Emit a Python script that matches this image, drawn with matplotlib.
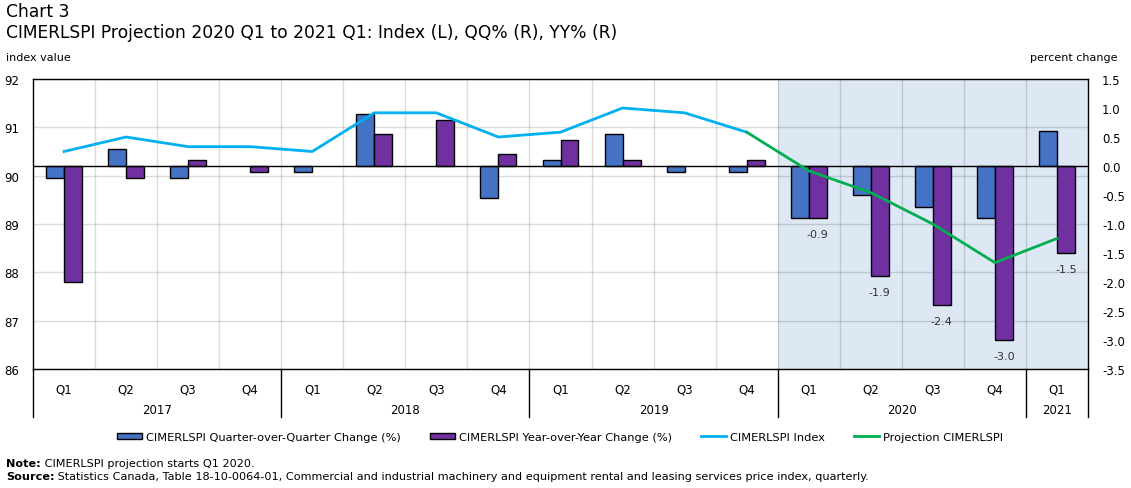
import numpy as np
import matplotlib
matplotlib.use("Agg")
from matplotlib import pyplot as plt
from matplotlib.patches import Patch
from matplotlib.lines import Line2D
import matplotlib.transforms as mtransforms

# data
quarters = ["Q1", "Q2", "Q3", "Q4"] * 4 + ["Q1"]
years = ["2017", "2018", "2019", "2020", "2021"]
year_len = [4, 4, 4, 4, 1]
qq_change = [-0.2, 0.3, -0.2, 0.0, -0.1, 0.9, 0.0, -0.55, 0.1, 0.55, -0.1, -0.1,
             -0.9, -0.5, -0.7, -0.9, 0.6]
yy_change = [-2.0, -0.2, 0.1, -0.1, 0.0, 0.55, 0.8, 0.2, 0.45, 0.1, 0.0, 0.1,
             -0.9, -1.9, -2.4, -3.0, -1.5]
index_hist = [90.5, 90.8, 90.6, 90.6, 90.5, 91.3, 91.3, 90.8, 90.9, 91.4, 91.3, 90.9]
index_proj = [90.9, 90.1, 89.65, 89.0, 88.2, 88.7]  # starts at 2019 Q4
labelled = [12, 13, 14, 15, 16]

BLUE = "#4472c4"
PURPLE = "#7030a0"
CYAN = "#00b0f0"
GREEN = "#00b050"

plt.rcParams["font.family"] = "DejaVu Sans"
fig = plt.figure(figsize=(11.31, 4.89), dpi=100)
rect = [33 / 1131, 1 - 370 / 489, (1088 - 33) / 1131, 290 / 489]

n = len(quarters)
x = np.arange(n)

# bottom layer: index scale, grid, shading
ax = fig.add_axes(rect)
ax.set_xlim(-0.5, n - 0.5)
ax.set_ylim(86, 92)
ax.set_yticks(np.arange(86, 93, 1))
ax.set_axisbelow(False)
ax.axvspan(11.5, n - 0.5, color="#dde8f4", zorder=0.2, lw=0)
ax.set_xticks(x)
ax.set_xticklabels(quarters, fontsize=8.5)
ax.set_xticks(np.arange(0.5, n - 1, 1), minor=True)
ax.tick_params(axis="x", which="both", length=0, pad=10)
ax.tick_params(axis="y", length=0, labelsize=8.5, pad=10)
ax.grid(True, axis="y", which="major", color="black", alpha=0.14, lw=1)
ax.grid(True, axis="x", which="minor", color="black", alpha=0.14, lw=1)
for s in ax.spines.values():
    s.set_color("black")
    s.set_linewidth(1)

# year labels and separators
trans = mtransforms.blended_transform_factory(ax.transData, ax.transAxes)
start = 0
bounds = [-0.5]
for yr, ln in zip(years, year_len):
    ax.text(start + (ln - 1) / 2, -0.14, yr, transform=trans, ha="center",
            va="center", fontsize=8.5)
    start += ln
    bounds.append(start - 0.5)
for b in bounds:
    ax.plot([b, b], [0, -0.165], transform=trans, color="black", lw=1, clip_on=False)

# bar layer: percent scale on the right
ax_pct = ax.twinx()
ax_pct.set_ylim(-3.5, 1.5)
ax_pct.set_yticks(np.arange(-3.5, 1.51, 0.5))
ax_pct.set_yticklabels(["%.1f" % v for v in np.arange(-3.5, 1.51, 0.5)])
ax_pct.tick_params(axis="y", length=0, labelsize=8.5, pad=10)
for s in ax_pct.spines.values():
    s.set_visible(False)
w = 0.29
ax_pct.bar(x - w / 2, qq_change, w, color=BLUE, edgecolor="black",
           lw=[1 if v else 0 for v in qq_change], zorder=2)
ax_pct.bar(x + w / 2, yy_change, w, color=PURPLE, edgecolor="black",
           lw=[1 if v else 0 for v in yy_change], zorder=2)
ax_pct.axhline(0, color="black", lw=1, zorder=3)
for i in labelled:
    ax_pct.annotate("%.1f" % yy_change[i], (x[i] + w / 2, yy_change[i]),
                    xytext=(0, -8), textcoords="offset points", ha="center",
                    va="top", fontsize=8, color="#333333")

# line layer: index scale again
ax_line = ax.twinx()
ax_line.set_ylim(86, 92)
ax_line.axis("off")
ax_line.plot(x[:12], index_hist, color=CYAN, lw=2)
ax_line.plot(x[11:], index_proj, color=GREEN, lw=2)

fig.text(6 / 1131, 1 - 58 / 489, "index value", fontsize=8, va="center")
fig.text(1118 / 1131, 1 - 58 / 489, "percent change", fontsize=8, va="center", ha="right")

fig.text(6 / 1131, 1 - 12 / 489, "Chart 3", fontsize=12.3, va="center")
fig.text(6 / 1131, 1 - 33 / 489,
         "CIMERLSPI Projection 2020 Q1 to 2021 Q1: Index (L), QQ% (R), YY% (R)",
         fontsize=12.3, va="center")

handles = [
    Patch(facecolor=BLUE, edgecolor="black", lw=1),
    Patch(facecolor=PURPLE, edgecolor="black", lw=1),
    Line2D([], [], color=CYAN, lw=2),
    Line2D([], [], color=GREEN, lw=2),
]
labels = ["CIMERLSPI Quarter-over-Quarter Change (%)",
          "CIMERLSPI Year-over-Year Change (%)",
          "CIMERLSPI Index", "Projection CIMERLSPI"]
fig.legend(handles, labels, loc="center", bbox_to_anchor=(560 / 1131, 1 - 438 / 489),
           ncol=4, frameon=False, fontsize=8.2, handlelength=2.2, handleheight=0.5,
           handletextpad=0.3, columnspacing=2.6)

renderer = fig.canvas.get_renderer()
for yy, bold, rest in [(464, "Note:", " CIMERLSPI projection starts Q1 2020."),
                       (477, "Source:", " Statistics Canada, Table 18-10-0064-01, Commercial and industrial "
                        "machinery and equipment rental and leasing services price index, quarterly.")]:
    t = fig.text(6 / 1131, 1 - yy / 489, bold, fontsize=8.1, fontweight="bold", va="center")
    bb = t.get_window_extent(renderer)
    fig.text(bb.x1 / fig.bbox.width, 1 - yy / 489, rest, fontsize=8.1, va="center")

fig.savefig("out.png", dpi=100)
